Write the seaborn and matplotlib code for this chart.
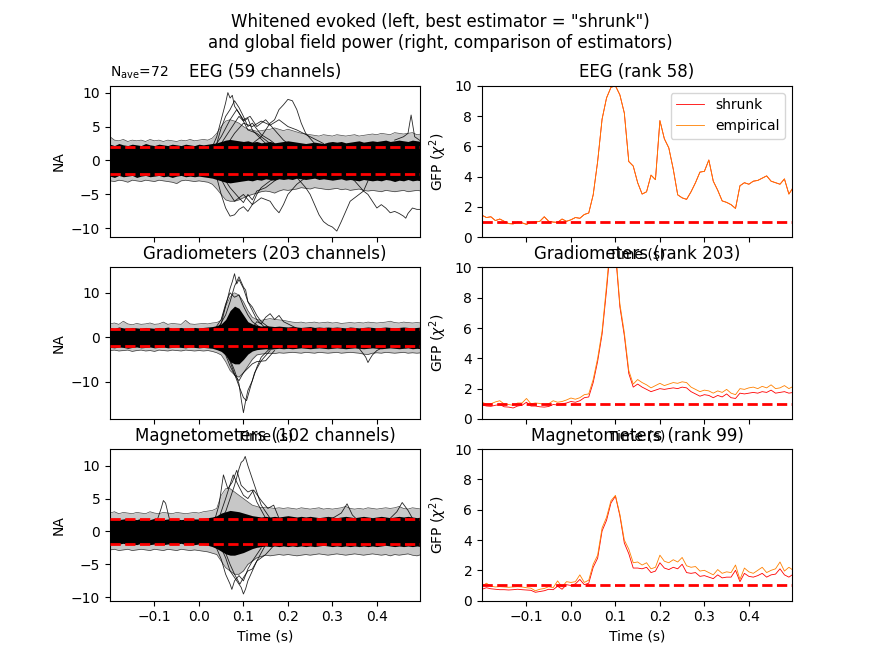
import numpy as np
import pandas as pd
import matplotlib
matplotlib.use('Agg')
import matplotlib.pyplot as plt
import seaborn as sns


# time axis of the GFP curves and of the channel bands (s)
times = np.round(np.arange(-0.2, 0.501, 0.01), 2)

### GFP (right column) ###
eeg_shrunk = [
	1.45, 1.30, 1.35, 1.10, 1.20, 1.05, 0.90, 0.88, 1.00, 0.95,
	0.85, 0.98, 1.00, 1.05, 1.35, 1.05, 1.00, 0.98, 1.20, 1.05,
	1.15, 1.30, 1.25, 1.50, 1.60, 2.80, 5.00, 7.80, 9.20, 9.90,
	10.0, 9.40, 8.20, 5.00, 4.70, 3.60, 2.85, 3.00, 4.10, 3.80,
	7.70, 6.50, 5.90, 4.50, 2.80, 2.60, 2.50, 3.00, 3.60, 4.30,
	4.35, 5.10, 3.70, 3.10, 2.40, 2.30, 2.15, 1.90, 3.40, 3.60,
	3.50, 3.70, 3.75, 3.90, 4.05, 3.70, 3.60, 3.50, 3.85, 2.85,
	3.30]
eeg_empirical = [
	1.45, 1.30, 1.35, 1.10, 1.20, 1.05, 0.90, 0.88, 1.00, 0.95,
	0.85, 0.98, 1.00, 1.05, 1.35, 1.05, 1.00, 0.98, 1.20, 1.05,
	1.15, 1.30, 1.25, 1.50, 1.60, 2.80, 5.00, 7.80, 9.20, 9.90,
	10.0, 9.40, 8.20, 5.00, 4.70, 3.60, 2.85, 3.00, 4.10, 3.80,
	7.70, 6.50, 5.90, 4.50, 2.80, 2.60, 2.50, 3.00, 3.60, 4.30,
	4.35, 5.10, 3.70, 3.10, 2.40, 2.30, 2.15, 1.90, 3.40, 3.60,
	3.50, 3.70, 3.75, 3.90, 4.05, 3.70, 3.60, 3.50, 3.85, 2.85,
	3.30]
grad_shrunk = [
	0.92, 0.85, 0.83, 0.90, 0.95, 0.80, 0.78, 0.72, 0.85, 0.90,
	1.10, 0.85, 0.85, 0.80, 0.78, 0.82, 0.95, 0.92, 1.00, 1.05,
	1.15, 1.10, 1.20, 1.40, 1.45, 2.40, 3.80, 5.60, 8.50, 11.8,
	11.0, 7.40, 5.50, 3.00, 2.10, 2.30, 2.10, 1.95, 1.80, 1.90,
	2.00, 1.95, 2.00, 2.05, 2.00, 2.10, 2.05, 1.80, 1.65, 1.50,
	1.60, 1.55, 1.40, 1.55, 1.45, 1.65, 1.40, 1.35, 1.70, 1.65,
	1.70, 1.75, 1.70, 1.80, 1.75, 1.90, 1.70, 1.75, 1.80, 1.70,
	1.75]
grad_empirical = [
	1.10, 0.98, 1.00, 1.12, 1.20, 0.98, 0.95, 0.90, 1.05, 1.05,
	1.35, 1.00, 1.05, 1.02, 0.95, 1.00, 1.20, 1.10, 1.15, 1.25,
	1.38, 1.30, 1.40, 1.60, 1.65, 2.60, 4.00, 5.80, 8.80, 12.0,
	11.2, 7.60, 5.70, 3.20, 2.30, 2.60, 2.40, 2.25, 2.05, 2.20,
	2.35, 2.20, 2.30, 2.40, 2.35, 2.45, 2.40, 2.10, 1.95, 1.80,
	1.90, 1.85, 1.70, 1.85, 1.75, 1.95, 1.70, 1.60, 2.00, 1.95,
	2.05, 2.10, 2.00, 2.15, 2.05, 2.25, 2.00, 2.05, 2.20, 2.00,
	2.15]
mag_shrunk = [
	0.75, 0.85, 0.78, 0.75, 0.72, 0.72, 0.70, 0.72, 0.75, 0.72,
	0.70, 0.68, 0.55, 0.60, 0.65, 0.75, 0.72, 0.95, 0.75, 1.05,
	1.00, 1.10, 1.40, 1.05, 1.15, 2.20, 2.80, 4.60, 5.30, 6.45,
	6.90, 5.60, 3.80, 3.10, 2.15, 2.15, 2.10, 2.20, 1.85, 1.95,
	2.50, 2.15, 2.05, 2.20, 2.10, 2.40, 1.85, 1.80, 1.85, 1.60,
	1.65, 1.55, 1.45, 1.70, 1.50, 1.55, 1.55, 2.00, 1.25, 1.80,
	1.60, 1.55, 1.65, 1.80, 1.55, 1.70, 1.75, 2.10, 1.70, 1.55,
	1.75]
mag_empirical = [
	0.95, 1.15, 0.95, 0.90, 0.92, 0.90, 0.88, 0.90, 0.92, 0.90,
	0.85, 0.82, 0.65, 0.75, 0.80, 0.92, 0.85, 1.30, 0.90, 1.25,
	1.20, 1.25, 1.70, 1.20, 1.35, 2.40, 3.00, 4.80, 5.50, 6.60,
	6.95, 5.70, 4.00, 3.40, 2.50, 2.55, 2.35, 2.50, 2.10, 2.20,
	3.00, 2.60, 2.50, 2.70, 2.55, 2.85, 2.30, 2.20, 2.25, 1.95,
	2.00, 1.85, 1.70, 2.05, 1.80, 1.90, 1.85, 2.35, 1.40, 2.15,
	1.90, 1.80, 2.00, 2.20, 1.85, 2.00, 2.10, 2.55, 1.95, 2.20,
	2.00]

### WHITENED CHANNELS (left column) ###
# dense core of the channel traces and the looser spread around it
eeg_core_hi = [
	2.4, 2.2, 2.5, 2.3, 2.2, 2.4, 2.3, 2.2, 2.5, 2.3,
	2.2, 2.4, 2.3, 2.2, 2.4, 2.3, 2.2, 2.4, 2.3, 2.2,
	2.4, 2.3, 2.4, 2.5, 2.6, 2.8, 3.0, 3.1, 3.0, 2.9,
	2.8, 2.9, 2.7, 2.8, 2.6, 2.7, 2.8, 2.6, 2.7, 2.8,
	2.9, 2.8, 2.7, 2.6, 2.5, 2.6, 2.7, 2.6, 2.5, 2.7,
	2.8, 2.7, 2.8, 2.6, 2.7, 2.8, 2.9, 2.7, 2.8, 2.9,
	2.8, 2.9, 3.0, 2.8, 2.9, 3.0, 2.9, 2.8, 3.0, 2.9,
	2.8]
eeg_core_lo = [
	-2.3, -2.5, -2.2, -2.4, -2.3, -2.2, -2.5, -2.3, -2.2, -2.4,
	-2.3, -2.2, -2.4, -2.3, -2.5, -2.3, -2.2, -2.4, -2.3, -2.4,
	-2.3, -2.4, -2.5, -2.6, -2.8, -3.0, -3.2, -3.3, -3.2, -3.1,
	-3.0, -2.9, -3.0, -2.8, -2.9, -2.7, -2.8, -2.9, -2.7, -2.8,
	-2.7, -2.8, -2.6, -2.7, -2.8, -2.7, -2.6, -2.8, -2.7, -2.8,
	-2.9, -2.8, -2.7, -2.9, -2.8, -2.9, -3.0, -2.8, -2.9, -3.0,
	-2.9, -3.0, -2.8, -2.9, -3.1, -2.9, -3.0, -2.8, -3.0, -2.9,
	-3.0]
eeg_spread_hi = [
	3.5, 3.0, 2.9, 3.1, 2.8, 3.0, 2.9, 3.0, 2.8, 3.1,
	2.9, 3.0, 2.8, 3.0, 2.9, 2.8, 3.0, 2.9, 3.1, 2.9,
	3.0, 3.1, 3.0, 3.3, 4.0, 5.0, 5.8, 6.0, 5.8, 5.5,
	5.0, 4.6, 4.5, 4.3, 4.4, 4.5, 4.6, 4.8, 4.6, 4.4,
	4.6, 4.4, 4.2, 4.0, 3.9, 3.8, 3.7, 3.6, 3.8, 3.7,
	3.6, 3.8, 3.7, 3.6, 3.7, 3.8, 3.6, 3.7, 3.8, 3.9,
	3.8, 4.0, 3.9, 3.8, 4.1, 4.0, 3.9, 4.0, 4.1, 3.8,
	3.9]
eeg_spread_lo = [
	-3.0, -3.1, -2.9, -3.0, -3.2, -2.9, -3.0, -3.1, -2.9, -3.0,
	-3.1, -2.9, -3.0, -3.1, -3.2, -3.4, -3.0, -2.9, -3.0, -3.1,
	-3.0, -3.1, -3.2, -3.5, -4.2, -5.0, -5.8, -6.0, -6.0, -5.8,
	-5.5, -5.2, -5.0, -4.8, -4.6, -4.5, -4.6, -4.8, -4.5, -4.3,
	-4.4, -4.3, -4.2, -4.0, -4.1, -4.2, -4.0, -4.1, -4.2, -4.3,
	-4.2, -4.1, -4.3, -4.2, -4.4, -4.3, -4.2, -4.4, -4.5, -4.4,
	-4.5, -4.6, -4.4, -4.5, -4.6, -4.5, -4.4, -4.6, -4.5, -4.4,
	-4.5]

grad_core_hi = [
	2.2, 2.0, 2.3, 2.1, 2.0, 2.2, 2.1, 2.0, 2.2, 2.1,
	2.0, 2.2, 2.1, 2.3, 2.0, 2.1, 2.2, 2.0, 2.1, 2.2,
	2.1, 2.2, 2.3, 2.4, 2.6, 3.0, 4.0, 6.0, 7.0, 6.5,
	5.0, 3.5, 3.0, 2.7, 2.5, 2.6, 2.5, 2.4, 2.5, 2.4,
	2.3, 2.4, 2.3, 2.2, 2.3, 2.4, 2.2, 2.3, 2.2, 2.3,
	2.2, 2.3, 2.2, 2.1, 2.3, 2.2, 2.1, 2.2, 2.3, 2.2,
	2.1, 2.2, 2.3, 2.2, 2.1, 2.2, 2.3, 2.2, 2.1, 2.2,
	2.3]
grad_core_lo = [
	-2.3, -2.4, -2.2, -2.3, -2.5, -2.3, -2.2, -2.4, -2.3, -2.2,
	-2.4, -2.3, -2.2, -2.4, -2.3, -2.2, -2.3, -2.4, -2.2, -2.3,
	-2.4, -2.3, -2.4, -2.5, -2.8, -3.2, -4.0, -5.5, -6.0, -6.0,
	-5.0, -3.8, -3.1, -2.8, -2.7, -2.6, -2.7, -2.6, -2.5, -2.6,
	-2.5, -2.6, -2.5, -2.4, -2.5, -2.6, -2.5, -2.4, -2.5, -2.6,
	-2.5, -2.4, -2.5, -2.6, -2.5, -2.4, -2.5, -2.6, -2.5, -2.4,
	-2.5, -2.6, -2.5, -2.4, -2.5, -2.6, -2.5, -2.4, -2.6, -2.5,
	-2.6]
grad_spread_hi = [
	3.0, 3.2, 2.9, 3.6, 3.0, 2.8, 3.1, 2.9, 3.0, 3.2,
	2.9, 3.0, 3.4, 2.9, 3.1, 3.0, 2.9, 3.8, 3.0, 2.9,
	3.0, 3.1, 3.0, 3.2, 3.3, 3.8, 7.0, 9.0, 10.0, 9.5,
	8.0, 6.0, 4.5, 4.0, 3.8, 4.0, 4.2, 4.0, 3.9, 3.8,
	3.6, 3.4, 3.3, 3.4, 3.2, 3.3, 3.4, 3.2, 3.3, 3.4,
	3.2, 3.3, 3.1, 3.2, 3.3, 3.2, 3.3, 3.2, 3.4, 3.3,
	3.2, 3.3, 3.4, 3.6, 3.3, 3.2, 3.4, 3.3, 3.2, 3.3,
	3.2]
grad_spread_lo = [
	-3.0, -2.9, -3.1, -3.0, -2.9, -3.2, -3.0, -2.9, -3.1, -3.0,
	-3.2, -2.9, -3.0, -3.1, -2.9, -3.0, -3.1, -2.9, -3.0, -3.1,
	-3.0, -3.1, -3.0, -3.2, -3.5, -4.0, -5.5, -7.5, -8.5, -9.0,
	-8.0, -6.5, -5.0, -4.0, -3.8, -3.7, -3.6, -3.7, -3.5, -3.6,
	-3.5, -3.4, -3.5, -3.6, -3.4, -3.5, -3.6, -3.4, -3.5, -3.6,
	-3.5, -3.4, -3.6, -3.5, -3.4, -3.5, -3.6, -3.8, -3.9, -3.6,
	-3.5, -3.6, -3.4, -3.5, -3.6, -3.5, -3.4, -3.6, -3.5, -3.6,
	-3.5]

mag_core_hi = [
	1.9, 2.0, 1.8, 1.9, 2.0, 1.9, 1.8, 2.0, 1.9, 1.8,
	2.0, 1.9, 1.8, 1.9, 2.0, 1.9, 1.8, 1.9, 2.0, 1.9,
	1.9, 2.0, 2.1, 2.2, 2.4, 2.8, 3.0, 3.2, 3.1, 3.0,
	2.8, 2.6, 2.4, 2.3, 2.2, 2.3, 2.2, 2.3, 2.2, 2.3,
	2.4, 2.3, 2.2, 2.3, 2.2, 2.3, 2.2, 2.1, 2.2, 2.3,
	2.2, 2.1, 2.2, 2.3, 2.2, 2.1, 2.2, 2.3, 2.2, 2.1,
	2.2, 2.3, 2.2, 2.1, 2.2, 2.3, 2.2, 2.3, 2.2, 2.1,
	2.2]
mag_core_lo = [
	-1.9, -2.0, -1.9, -1.8, -2.0, -1.9, -2.0, -1.8, -1.9, -2.0,
	-1.9, -1.8, -2.0, -1.9, -2.0, -1.9, -1.8, -2.0, -1.9, -2.0,
	-1.9, -2.0, -2.1, -2.3, -2.6, -3.0, -3.4, -3.6, -3.6, -3.4,
	-3.2, -2.9, -2.6, -2.4, -2.3, -2.2, -2.3, -2.2, -2.3, -2.2,
	-2.3, -2.2, -2.3, -2.2, -2.3, -2.2, -2.3, -2.2, -2.1, -2.2,
	-2.3, -2.2, -2.3, -2.2, -2.3, -2.2, -2.3, -2.2, -2.3, -2.2,
	-2.3, -2.2, -2.1, -2.2, -2.3, -2.2, -2.3, -2.2, -2.3, -2.2,
	-2.3]
mag_spread_hi = [
	2.8, 3.0, 2.7, 2.9, 2.8, 2.7, 2.9, 2.8, 2.7, 3.0,
	2.8, 2.7, 2.9, 2.8, 2.7, 2.9, 2.8, 2.7, 2.8, 2.9,
	2.8, 3.0, 3.1, 3.2, 3.5, 5.5, 6.5, 6.5, 6.0, 5.5,
	5.0, 4.5, 4.0, 3.8, 3.6, 3.7, 3.6, 3.5, 3.6, 3.5,
	3.6, 3.5, 3.4, 3.6, 3.5, 3.4, 3.5, 3.6, 3.4, 3.5,
	3.4, 3.5, 3.6, 3.8, 3.5, 3.4, 3.5, 3.4, 3.6, 3.5,
	3.4, 3.5, 3.6, 3.5, 3.6, 3.8, 3.5, 3.4, 3.6, 3.5,
	3.4]
mag_spread_lo = [
	-2.8, -2.7, -2.9, -2.8, -2.7, -2.9, -2.8, -2.7, -2.8, -2.9,
	-2.7, -2.8, -2.9, -2.7, -2.8, -2.9, -2.7, -2.8, -2.9, -2.8,
	-2.9, -3.0, -3.1, -3.3, -3.5, -4.5, -5.5, -6.0, -6.5, -6.5,
	-6.0, -5.0, -4.5, -4.0, -3.8, -3.6, -3.7, -3.6, -3.5, -3.6,
	-3.5, -3.6, -3.7, -3.6, -3.5, -3.6, -3.5, -3.4, -3.5, -3.6,
	-3.5, -3.4, -3.5, -3.6, -3.5, -3.4, -3.5, -3.6, -3.5, -3.4,
	-3.5, -3.6, -3.5, -3.7, -3.5, -3.6, -3.5, -3.4, -3.6, -3.7,
	-3.5]

# channels that leave the band (time in s, whitened value)
eeg_ch1_t = [0.00, 0.02, 0.03, 0.04, 0.05, 0.06, 0.065, 0.07, 0.075, 0.08, 0.09, 0.10, 0.11, 0.12, 0.13, 0.15, 0.17, 0.20]
eeg_ch1_v = [0.8, 1.2, 2.0, 3.5, 6.0, 8.5, 10.0, 9.2, 9.6, 8.0, 7.0, 5.8, 6.2, 4.5, 3.8, 2.5, 1.8, 1.2]
eeg_ch2_t = [0.02, 0.04, 0.05, 0.06, 0.07, 0.08, 0.09, 0.10, 0.11, 0.12, 0.14, 0.16, 0.18]
eeg_ch2_v = [1.0, 2.5, 4.8, 6.5, 7.5, 8.8, 7.8, 6.5, 5.0, 5.5, 3.8, 3.0, 2.0]
eeg_ch3_t = [0.03, 0.05, 0.07, 0.085, 0.10, 0.115, 0.13, 0.15, 0.17, 0.19, 0.21]
eeg_ch3_v = [1.5, 3.5, 6.0, 7.5, 6.0, 6.5, 5.0, 6.0, 4.5, 3.0, 2.0]
eeg_ch4_t = [0.10, 0.12, 0.14, 0.16, 0.17, 0.18, 0.19, 0.20, 0.21, 0.22, 0.23, 0.24, 0.26, 0.28]
eeg_ch4_v = [1.5, 2.5, 3.5, 5.5, 6.0, 7.5, 8.2, 9.0, 8.8, 7.5, 5.5, 4.0, 2.5, 1.5]
eeg_ch5_t = [0.02, 0.04, 0.05, 0.06, 0.07, 0.08, 0.09, 0.10, 0.11, 0.12, 0.13, 0.14, 0.16, 0.18, 0.20]
eeg_ch5_v = [-1.0, -2.5, -5.0, -7.0, -8.2, -8.0, -7.2, -6.8, -7.5, -6.5, -5.0, -4.0, -3.0, -2.5, -1.5]
eeg_ch6_t = [0.04, 0.06, 0.08, 0.10, 0.12, 0.14, 0.16, 0.17, 0.18, 0.19, 0.20, 0.22, 0.24]
eeg_ch6_v = [-1.5, -4.0, -6.0, -5.0, -6.5, -5.5, -6.0, -7.0, -7.7, -6.5, -5.0, -3.5, -2.5]
eeg_ch7_t = [0.20, 0.22, 0.24, 0.25, 0.26, 0.27, 0.28, 0.29, 0.30, 0.31, 0.32, 0.33, 0.34, 0.35, 0.36, 0.37, 0.38]
eeg_ch7_v = [-1.5, -2.5, -4.0, -5.0, -6.5, -8.0, -9.0, -9.5, -9.8, -10.4, -9.0, -7.5, -6.0, -5.5, -5.0, -4.5, -3.0]
eeg_ch8_t = [0.33, 0.35, 0.37, 0.38, 0.39, 0.40, 0.41, 0.42, 0.43, 0.44, 0.45, 0.46, 0.465, 0.47, 0.48, 0.49, 0.50]
eeg_ch8_v = [-2.0, -3.0, -4.5, -5.0, -6.0, -7.0, -6.5, -7.0, -7.7, -7.5, -7.8, -8.2, -8.5, -7.8, -7.0, -7.2, -7.2]
eeg_ch9_t = [0.44, 0.46, 0.47, 0.477, 0.485, 0.50]
eeg_ch9_v = [3.0, 3.5, 4.0, 6.7, 3.5, 2.8]
eeg_ch10_t = [0.06, 0.08, 0.10, 0.12, 0.14, 0.16, 0.18, 0.20, 0.22, 0.25, 0.28]
eeg_ch10_v = [2.0, 4.0, 5.5, 5.0, 5.8, 5.2, 6.0, 5.0, 4.5, 3.5, 2.5]
eeg_ch11_t = [0.04, 0.06, 0.08, 0.09, 0.10, 0.11, 0.13, 0.15, 0.17]
eeg_ch11_v = [1.5, 3.5, 5.5, 6.5, 5.8, 4.5, 4.0, 3.0, 2.0]
eeg_ch12_t = [0.05, 0.07, 0.09, 0.10, 0.11, 0.12, 0.13, 0.15, 0.17, 0.19]
eeg_ch12_v = [-2.0, -4.0, -5.5, -6.2, -5.0, -5.8, -4.5, -4.0, -3.0, -2.0]

grad_ch1_t = [0.03, 0.05, 0.06, 0.07, 0.075, 0.08, 0.085, 0.09, 0.10, 0.11, 0.12, 0.13, 0.15]
grad_ch1_v = [1.0, 3.0, 7.0, 11.0, 12.5, 14.3, 12.0, 13.0, 11.0, 8.0, 6.0, 4.0, 2.0]
grad_ch2_t = [0.04, 0.06, 0.07, 0.08, 0.09, 0.10, 0.105, 0.11, 0.12, 0.13, 0.14, 0.16]
grad_ch2_v = [1.5, 5.0, 8.0, 11.5, 13.6, 11.3, 10.6, 8.0, 6.8, 4.9, 3.5, 2.0]
grad_ch3_t = [0.03, 0.05, 0.06, 0.07, 0.08, 0.09, 0.10, 0.11, 0.12, 0.14]
grad_ch3_v = [1.0, 4.0, 7.5, 10.0, 9.0, 9.5, 7.0, 5.0, 3.5, 2.0]
grad_ch4_t = [0.12, 0.13, 0.14, 0.15, 0.16, 0.17, 0.18, 0.19, 0.20, 0.22]
grad_ch4_v = [2.0, 3.5, 3.0, 4.5, 5.3, 4.0, 4.9, 3.5, 3.0, 2.0]
grad_ch5_t = [0.04, 0.06, 0.07, 0.08, 0.09, 0.095, 0.10, 0.105, 0.11, 0.12, 0.13, 0.14, 0.16]
grad_ch5_v = [-1.5, -3.0, -5.0, -7.5, -10.5, -14.0, -17.0, -14.3, -12.0, -9.8, -6.8, -4.5, -2.5]
grad_ch6_t = [0.05, 0.07, 0.08, 0.09, 0.10, 0.107, 0.115, 0.125, 0.14, 0.16]
grad_ch6_v = [-2.0, -5.5, -8.3, -11.0, -13.6, -14.3, -11.5, -8.0, -5.3, -3.0]
grad_ch7_t = [0.04, 0.06, 0.07, 0.08, 0.09, 0.10, 0.11, 0.12, 0.13, 0.15, 0.17]
grad_ch7_v = [-1.5, -4.0, -6.5, -8.5, -9.8, -8.0, -7.0, -6.0, -5.5, -5.3, -3.0]
grad_ch8_t = [0.34, 0.36, 0.37, 0.375, 0.38, 0.385, 0.39, 0.40, 0.42]
grad_ch8_v = [-2.0, -2.5, -3.8, -4.5, -5.7, -4.8, -4.0, -3.0, -2.0]

mag_ch1_t = [0.04, 0.06, 0.07, 0.08, 0.09, 0.095, 0.10, 0.104, 0.11, 0.12, 0.13, 0.14, 0.16]
mag_ch1_v = [1.0, 3.0, 5.0, 7.0, 9.5, 10.5, 10.8, 11.4, 10.0, 8.0, 6.0, 4.0, 2.0]
mag_ch2_t = [0.03, 0.045, 0.055, 0.065, 0.075, 0.085, 0.095, 0.11, 0.12, 0.13, 0.15]
mag_ch2_v = [0.5, 4.0, 8.6, 6.5, 7.5, 9.3, 7.0, 6.0, 6.3, 4.5, 2.0]
mag_ch3_t = [0.04, 0.06, 0.077, 0.09, 0.10, 0.11, 0.123, 0.14, 0.155, 0.168, 0.18]
mag_ch3_v = [1.0, 5.0, 8.6, 6.8, 5.5, 5.0, 6.3, 4.7, 3.5, 4.0, 2.0]
mag_ch4_t = [-0.11, -0.095, -0.085, -0.08, -0.075, -0.065, -0.05]
mag_ch4_v = [0.5, 1.5, 3.5, 4.7, 4.3, 1.5, 0.5]
mag_ch5_t = [0.04, 0.06, 0.07, 0.08, 0.09, 0.095, 0.10, 0.105, 0.11, 0.12, 0.13, 0.15]
mag_ch5_v = [-1.0, -4.0, -6.0, -7.0, -8.0, -8.5, -9.5, -8.7, -7.5, -6.0, -4.5, -2.0]
mag_ch6_t = [0.03, 0.05, 0.06, 0.07, 0.074, 0.08, 0.09, 0.10, 0.11, 0.12, 0.14]
mag_ch6_v = [-1.0, -4.2, -6.5, -8.0, -8.8, -7.5, -6.7, -7.5, -5.7, -4.5, -2.5]
mag_ch7_t = [0.05, 0.07, 0.08, 0.092, 0.10, 0.11, 0.12, 0.13, 0.15, 0.17]
mag_ch7_v = [-1.5, -5.0, -6.5, -8.0, -7.0, -6.0, -5.7, -4.5, -3.5, -2.0]
mag_ch8_t = [0.30, 0.32, 0.333, 0.345, 0.36]
mag_ch8_v = [2.0, 2.8, 4.2, 2.5, 1.5]
mag_ch9_t = [0.43, 0.445, 0.457, 0.47, 0.48]
mag_ch9_v = [2.0, 3.0, 4.4, 3.2, 2.0]


def channel_frame(pairs):
	rows = []
	for n, (t, v) in enumerate(pairs):
		rows.append(pd.DataFrame({'time': t, 'value': v, 'channel': n}))
	return pd.concat(rows, ignore_index=True)


panels = [
	{
		'title': 'EEG (59 channels)',
		'gfp_title': 'EEG (rank 58)',
		'core': (eeg_core_lo, eeg_core_hi),
		'spread': (eeg_spread_lo, eeg_spread_hi),
		'channels': [(eeg_ch1_t, eeg_ch1_v), (eeg_ch2_t, eeg_ch2_v), (eeg_ch3_t, eeg_ch3_v),
			(eeg_ch4_t, eeg_ch4_v), (eeg_ch5_t, eeg_ch5_v), (eeg_ch6_t, eeg_ch6_v),
			(eeg_ch7_t, eeg_ch7_v), (eeg_ch8_t, eeg_ch8_v), (eeg_ch9_t, eeg_ch9_v),
			(eeg_ch10_t, eeg_ch10_v), (eeg_ch11_t, eeg_ch11_v), (eeg_ch12_t, eeg_ch12_v)],
		'gfp': (eeg_shrunk, eeg_empirical),
		'ylim': (-11.3, 11.0),
		'yticks': [-10, -5, 0, 5, 10],
	},
	{
		'title': 'Gradiometers (203 channels)',
		'gfp_title': 'Gradiometers (rank 203)',
		'core': (grad_core_lo, grad_core_hi),
		'spread': (grad_spread_lo, grad_spread_hi),
		'channels': [(grad_ch1_t, grad_ch1_v), (grad_ch2_t, grad_ch2_v), (grad_ch3_t, grad_ch3_v),
			(grad_ch4_t, grad_ch4_v), (grad_ch5_t, grad_ch5_v), (grad_ch6_t, grad_ch6_v),
			(grad_ch7_t, grad_ch7_v), (grad_ch8_t, grad_ch8_v)],
		'gfp': (grad_shrunk, grad_empirical),
		'ylim': (-18.4, 15.7),
		'yticks': [-10, 0, 10],
	},
	{
		'title': 'Magnetometers (102 channels)',
		'gfp_title': 'Magnetometers (rank 99)',
		'core': (mag_core_lo, mag_core_hi),
		'spread': (mag_spread_lo, mag_spread_hi),
		'channels': [(mag_ch1_t, mag_ch1_v), (mag_ch2_t, mag_ch2_v), (mag_ch3_t, mag_ch3_v),
			(mag_ch4_t, mag_ch4_v), (mag_ch5_t, mag_ch5_v), (mag_ch6_t, mag_ch6_v),
			(mag_ch7_t, mag_ch7_v), (mag_ch8_t, mag_ch8_v), (mag_ch9_t, mag_ch9_v)],
		'gfp': (mag_shrunk, mag_empirical),
		'ylim': (-10.5, 12.5),
		'yticks': [-10, -5, 0, 5, 10],
	},
]

estimators = ['shrunk', 'empirical']
palette = {'shrunk': (1.0, 0.0, 0.0), 'empirical': (1.0, 0.5, 0.0)}


### PLOT ###
fig, axs = plt.subplots(3, 2, figsize=(8.8, 6.6), dpi=100)
fig.subplots_adjust(left=0.125, right=0.9, top=0.87, bottom=0.09, hspace=0.2, wspace=0.2)

for row, p in enumerate(panels):
	ax = axs[row, 0]
	ax.fill_between(times, p['spread'][0], p['spread'][1], color='black', alpha=0.22, lw=0, zorder=1)
	for edge in p['spread']:
		ax.plot(times, edge, color='black', lw=0.5, alpha=0.7, zorder=1)
	ax.fill_between(times, p['core'][0], p['core'][1], color='black', lw=0, zorder=2)
	sns.lineplot(
		data=channel_frame(p['channels']),
		x='time', y='value',
		units='channel', estimator=None,
		color='black', lw=0.6, alpha=0.85,
		ax=ax, zorder=3,
	)
	for level in (-1.96, 1.96):
		ax.axhline(level, color='red', ls='--', lw=2, zorder=4)
	ax.set(ylim=p['ylim'], yticks=p['yticks'], ylabel='NA', xlabel='')
	ax.set_title(p['title'])
	if row > 0:
		ax.set_xlabel('Time (s)')

	ax = axs[row, 1]
	gfp = pd.DataFrame({
		'time': np.concatenate([times, times]),
		'value': np.concatenate([p['gfp'][0], p['gfp'][1]]),
		'estimator': ['shrunk'] * len(times) + ['empirical'] * len(times),
	})
	sns.lineplot(
		data=gfp, x='time', y='value',
		hue='estimator', hue_order=estimators, palette=palette,
		lw=0.6, legend=False, ax=ax,
	)
	ax.axhline(1, color='red', ls='--', lw=2)
	ax.set(ylim=(0, 10), ylabel=r'GFP ($\chi^2$)', xlabel='Time (s)')
	ax.set_title(p['gfp_title'])

for ax in axs.ravel():
	ax.set_xlim(-0.2, 0.497)
	ax.set_xticks([-0.1, 0.0, 0.1, 0.2, 0.3, 0.4])
for ax in axs[:2].ravel():
	ax.tick_params(labelbottom=False)

axs[0, 1].legend(axs[0, 1].lines[:2], estimators, loc='upper right')
axs[0, 0].text(0.0, 1.03, r'N$_{\mathrm{ave}}$=72', transform=axs[0, 0].transAxes,
	ha='left', va='bottom', fontsize=10)

fig.suptitle('Whitened evoked (left, best estimator = "shrunk")\n'
	'and global field power (right, comparison of estimators)')

fig.savefig('out.png', dpi=100)
